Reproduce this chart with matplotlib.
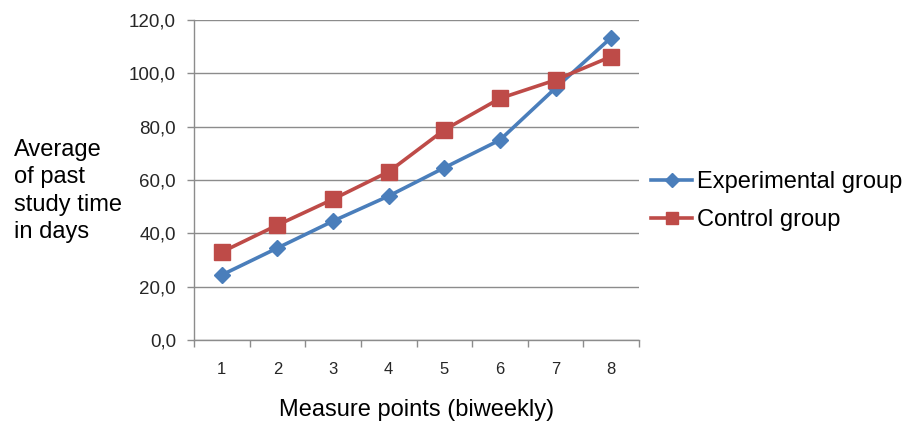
import matplotlib
matplotlib.use("Agg")
import matplotlib.pyplot as plt
from matplotlib.ticker import FuncFormatter, MultipleLocator, FixedLocator

plt.rcParams['font.family'] = ['Liberation Sans', 'DejaVu Sans']

# Average past study time per biweekly measure point
points = [1, 2, 3, 4, 5, 6, 7, 8]
experimental = [24.4, 34.5, 44.6, 54.0, 64.6, 75.0, 94.5, 113.4]
control = [33.0, 43.1, 52.8, 63.1, 78.8, 90.6, 97.5, 106.3]

blue = '#4A7EBB'
red = '#BE4B48'
grid_col = '#8C8C8C'

fig = plt.figure(figsize=(9.08, 4.29), dpi=100)
ax = fig.add_axes([194 / 908, 89 / 429, 445 / 908, 320 / 429])

ax.plot(points, experimental, color=blue, lw=2.6, marker='D', ms=8.5,
        label='Experimental group', zorder=3)
ax.plot(points, control, color=red, lw=2.6, marker='s', ms=11,
        label='Control group', zorder=3)

ax.set_xlim(0.5, 8.5)
ax.set_ylim(0, 120)
ax.yaxis.set_major_locator(MultipleLocator(20))
ax.yaxis.set_major_formatter(FuncFormatter(lambda v, _: f'{v:.1f}'.replace('.', ',')))
ax.grid(axis='y', color=grid_col, lw=1)
ax.set_axisbelow(True)

# category labels sit between boundary ticks
ax.set_xticks(points)
ax.xaxis.set_minor_locator(FixedLocator([p + 0.5 for p in range(0, 9)]))
ax.tick_params(axis='x', which='major', length=0, pad=16, labelsize=12, labelcolor='#262626')
ax.tick_params(axis='x', which='minor', length=5, color=grid_col, width=1)
ax.tick_params(axis='y', length=5, color=grid_col, width=1, pad=8, labelsize=13.5,
               labelcolor='#262626')

for side in ['top', 'right']:
    ax.spines[side].set_visible(False)
for side in ['left', 'bottom']:
    ax.spines[side].set_color(grid_col)
    ax.spines[side].set_linewidth(1)

ax.set_xlabel('Measure points (biweekly)', fontsize=17, labelpad=16)

fig.text(14 / 908, 1 - 191 / 429, 'Average\nof past\nstudy time\nin days',
         fontsize=17, ha='left', va='center', linespacing=1.3)

fig.legend(loc='center left', bbox_to_anchor=(651 / 908, 1 - 201 / 429),
           frameon=False, fontsize=17, handlelength=1.75, handletextpad=0.2,
           labelspacing=0.66, markerscale=0.85, borderpad=0, borderaxespad=0)

fig.savefig('out.png', dpi=100)
